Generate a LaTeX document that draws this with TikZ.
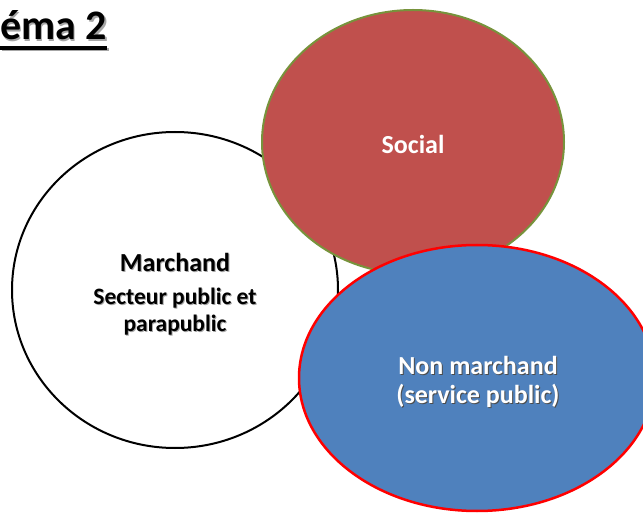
\documentclass[tikz,border=0pt]{standalone}
\usepackage{fontspec}
\setmainfont{Carlito}
\usepackage{tikz}
\usepackage{xcolor}
\usetikzlibrary{shapes.geometric}
\definecolor{socialred}{HTML}{C0504D}
\definecolor{socialrim}{HTML}{77933C}
\definecolor{publicblue}{HTML}{4F81BD}
\tikzset{
    set-ellipse/.style = {ellipse, inner sep=0pt, outer sep=0pt},
    set-label/.style = {align=center, font=\bfseries\fontsize{26}{29.5}\selectfont},
    set-shadow/.style = {set-label, text=black!35},
    title-text/.style = {anchor=base west, inner sep=0pt, font=\bfseries\fontsize{42}{46}\selectfont},
}
\newcommand{\smallline}{\fontsize{23.5}{27}\selectfont}
\newcommand{\marchandtext}{Marchand\\[3pt]{\smallline Secteur public et}\\[-2.5pt]{\smallline parapublic}}

\begin{document}
\begin{tikzpicture}[x=1pt, y=1pt]
\useasboundingbox (0,0) rectangle (643,512);
\node [set-ellipse, draw=black, fill=white, line width=2pt, minimum width=326pt, minimum height=316pt] (marchand) at (175,222) {};
\node [set-ellipse, draw=socialrim, fill=socialred, line width=2pt, minimum width=302pt, minimum height=264pt] (social) at (413,370) {};
\node [set-ellipse, draw=red, fill=publicblue, line width=2.5pt, minimum width=356pt, minimum height=266pt] (nonmarchand) at (477,134) {};
% labels, shadow first
\node [set-shadow] (marchand-shadow) at (176,217) {\marchandtext};
\node [set-label] (marchand-text) at (175,218) {\marchandtext};
\node [set-label, text=white] (social-text) at (413,368) {Social};
\node [set-shadow, text=black!70] (nonmarchand-shadow) at (479,129) {Non marchand\\(service public)};
\node [set-label, text=white] (nonmarchand-text) at (478,130) {Non marchand\\(service public)};
\node [title-text, text=black!35] (title-shadow) at (1.5,470.5) {éma 2};
\draw [black!35, line width=3.5pt] ([yshift=-8pt]title-shadow.base west) -- ([yshift=-8pt]title-shadow.base east);
\node [title-text] (title) at (0,472) {éma 2};
\draw [line width=3.5pt] ([yshift=-8pt]title.base west) -- ([yshift=-8pt]title.base east);
\end{tikzpicture}
\end{document}
